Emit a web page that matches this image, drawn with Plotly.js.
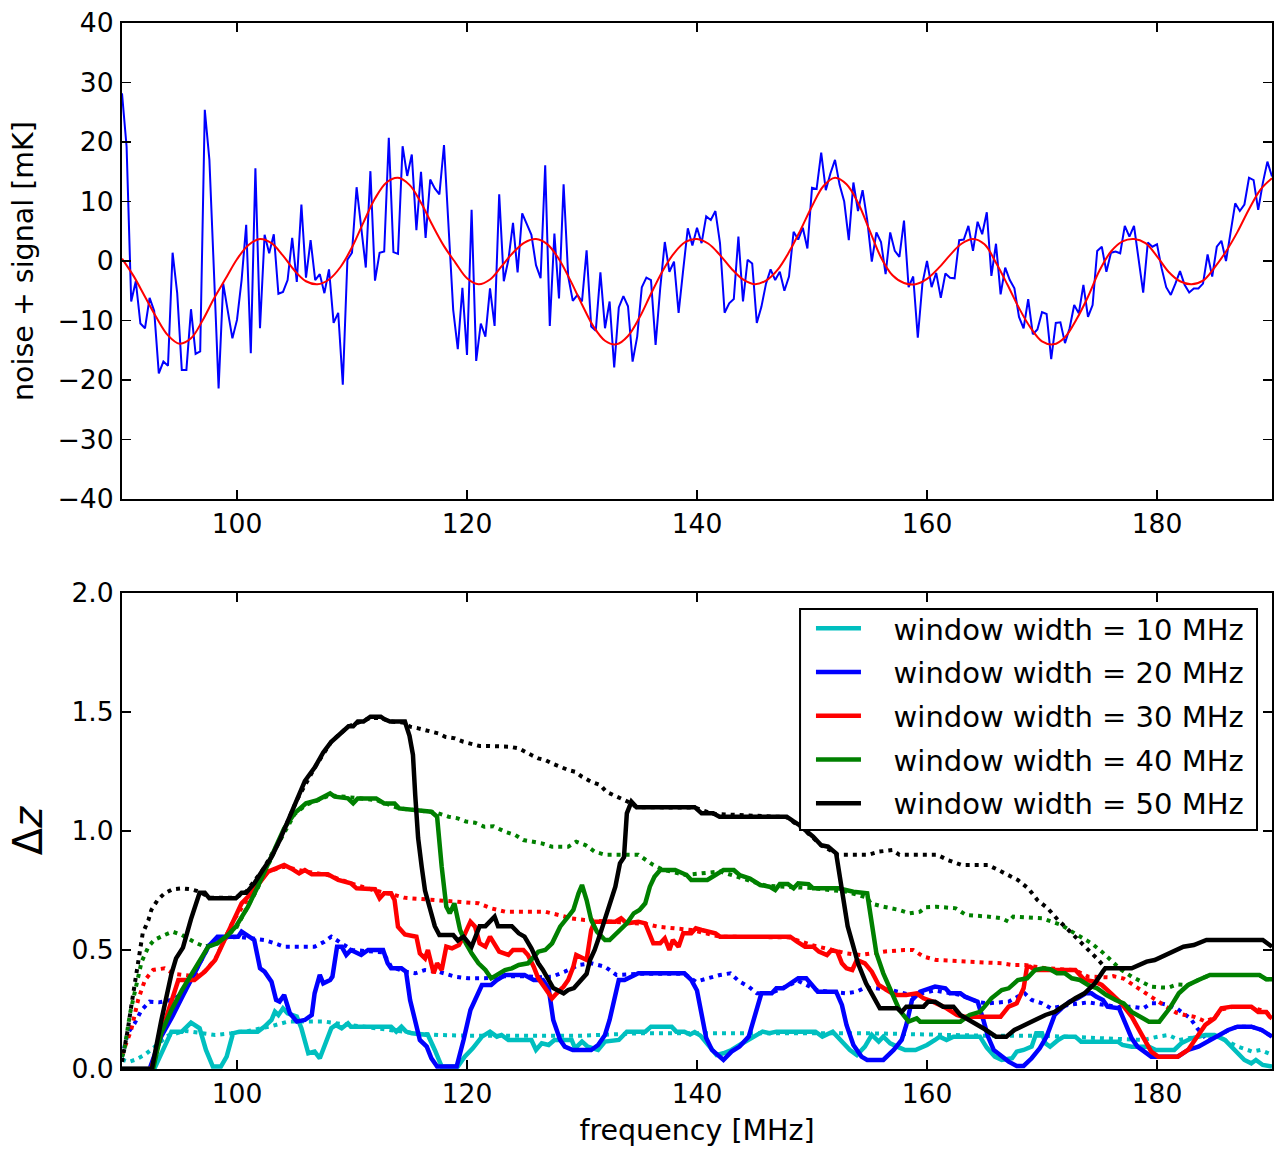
<!DOCTYPE html>
<html>
<head>
<meta charset="utf-8">
<script src="https://cdn.plot.ly/plotly-3.0.1.min.js"></script>
<style>
html,body{margin:0;padding:0;background:#fff;}
#chart{width:1276px;height:1151px;}
</style>
</head>
<body>
<div id="chart"></div>
<script>
// ---------------- DATA ----------------
// Top panel: noisy spectrum, sampled every 0.4 MHz from 90 to 190 MHz
const noiseFreqStart = 90;
const noiseFreqStep = 0.4;
const noiseValues = [
28.2, 19.2, -6.8, -3.4, -10.5, -11.3, -6.2, -8.4, -18.9, -16.9,
-17.6, 1.4, -5.4, -18.3, -18.3, -8.1, -15.6, -15.2, 25.4, 17.0,
-2.0, -21.4, -3.8, -8.8, -13.0, -9.9, -3.2, 6.1, -15.5, 15.6,
-11.3, 4.4, 1.3, 4.5, -5.5, -5.2, -3.2, 3.9, -3.5, 9.5,
-2.8, 3.5, -3.2, -2.2, -5.4, -1.4, -10.4, -8.7, -20.8, 0.2,
1.4, 12.4, 5.2, -1.1, 15.1, -3.3, 1.4, 1.6, 20.7, 1.5,
1.2, 19.3, 14.3, 17.9, 5.2,
15.0, 3.9, 13.7, 12.2, 11.2, 19.5, 4.6, -8.2, -14.8, -4.5,
-15.8, 8.6, -16.8, -10.5, -12.7, -4.6, -10.9, 11.2, -3.4, 0.2,
6.4, -1.9, 8.0, 6.3, 4.4, -0.7, -2.9, 16.1, -10.9, 4.6,
-6.3, 12.9, -2.6, -6.7, -5.7, -6.8, 1.8, -11.0, -11.7, -1.9,
-11.3, -6.8, -17.9, -7.8, -5.9, -7.6, -16.9, -12.7, -4.4, -2.8,
-3.2, -14.1, -4.6, 3.2, -1.8, -0.1, -8.7, -1.5, 5.5, 2.6,
5.6, 3.0, 7.5,
6.9, 8.4, 3.0, -8.7, -7.1, -6.4, 4.1, -6.8, 0.2, -0.4,
-10.4, -7.7, -3.8, -1.4, -3.2, -1.8, -5.0, -2.6, 4.9, 3.6,
5.6, 2.1, 12.3, 12.1, 18.2, 11.9, 14.7, 17.0, 12.8, 10.0,
3.5, 13.2, 8.4, 11.9, 6.9, -0.1, 4.8, 3.2, -2.2, 4.8,
1.7, 0.7, 6.8, -4.4, -2.6, -12.9, -3.8, 0.0, -4.4, -2.0,
-6.2, -2.1, -2.8, -2.9, 3.5, 3.6, 5.9, 1.7, 6.6, 4.5,
8.2,
-2.5, 2.9, -5.6, -1.1, -3.2, -4.6, -9.4, -11.3, -6.4, -12.3,
-11.5, -8.6, -8.9, -16.5, -10.4, -10.3, -13.8, -11.3, -7.4, -8.8,
-4.0, -9.4, -7.4, 1.7, 2.4, -1.8, 1.4, 1.6, 1.3, 5.9,
4.1, 5.9, -0.1, -5.3, 3.1, 2.4, 2.8, -1.2, -4.4, -5.7,
-3.8, -1.7, -4.0, -5.3, -4.6, -4.6, -3.8, 1.1, -2.6, 2.4,
3.4, 0.0, 4.8, 9.7, 8.4, 9.5, 14.0, 13.6, 8.6, 13.1,
16.7, 14.2
];

// Top panel: smooth signal (red), read every 1 MHz
const signalFreq = [90,91,92,93,94,95,96,97,98,99,100,101,102,103,104,105,106,107,108,109,110,111,112,113,114,115,116,117,118,119,120,121,122,123,124,125,126,127,128,129,130,131,132,133,134,135,136,137,138,139,140,141,142,143,144,145,146,147,148,149,150,151,152,153,154,155,156,157,158,159,160,161,162,163,164,165,166,167,168,169,170,171,172,173,174,175,176,177,178,179,180,181,182,183,184,185,186,187,188,189,190];
const signalValues = [0.4,-2.5,-6.0,-9.5,-12.5,-13.9,-13.0,-10.0,-6.3,-3.0,0.3,2.7,3.7,3.0,0.9,-1.6,-3.4,-3.9,-3.1,-1.0,2.3,6.5,10.5,13.2,14.0,12.8,9.8,6.0,2.5,-0.3,-2.9,-3.9,-3.1,-0.9,1.4,3.1,3.7,2.8,0.3,-3.3,-7.3,-11.0,-13.4,-14.0,-12.6,-9.5,-5.5,-1.7,1.3,3.2,3.7,2.9,1.0,-1.3,-3.1,-3.9,-3.3,-1.5,1.5,5.2,9.2,12.6,14.0,12.9,9.8,5.2,0.6,-2.4,-3.7,-3.9,-3.0,-1.2,1.0,2.9,3.7,2.8,-0.3,-4.0,-7.9,-11.2,-13.5,-14.0,-12.8,-9.8,-6.0,-1.6,1.6,3.3,3.7,3.0,0.8,-1.8,-3.4,-3.9,-3.3,-1.1,1.6,4.9,8.7,12.0,13.9];

// Bottom panel: Delta z vs frequency, [frequency MHz, Delta z] pairs
const windowWidths = [10, 20, 30, 40, 50];

const w10Solid = [[90,0],[92.8,0],[93.7,0.094],[94.3,0.157],[95.2,0.157],[96.0,0.195],[96.75,0.171],[97.3,0.08],[97.9,0.01],[98.6,0.01],[99.1,0.052],[99.65,0.15],[100.2,0.157],[101.8,0.157],[102.4,0.178],[103.0,0.206],[103.3,0.241],[103.6,0.227],[104.0,0.255],[104.4,0.234],[105.2,0.22],[105.6,0.171],[106.2,0.066],[106.75,0.073],[107.2,0.045],[107.6,0.094],[108.2,0.171],[108.6,0.185],[109.1,0.171],[109.65,0.192],[109.9,0.178],[113.4,0.178],[113.85,0.157],[114.3,0.178],[114.7,0.157],[115.2,0.15],[116.6,0.143],[117.2,0.08],[117.8,0.01],[119.2,0.01],[119.8,0.052],[120.5,0.087],[121.3,0.136],[122.0,0.157],[122.6,0.136],[123.0,0.143],[123.6,0.122],[125.6,0.122],[126.0,0.08],[126.5,0.108],[127.1,0.101],[127.6,0.122],[129.1,0.122],[129.4,0.087],[130.0,0.115],[130.5,0.094],[131.4,0.08],[132.0,0.115],[133.2,0.122],[133.9,0.157],[135.5,0.157],[136.0,0.178],[137.8,0.178],[138.2,0.157],[138.9,0.157],[139.4,0.145],[139.8,0.155],[140.3,0.14],[140.7,0.115],[141.1,0.094],[141.7,0.059],[142.3,0.066],[143.0,0.08],[143.7,0.101],[144.5,0.122],[145.0,0.136],[145.7,0.157],[146.3,0.15],[146.9,0.157],[150.3,0.157],[150.9,0.136],[151.8,0.157],[152.2,0.136],[153.3,0.08],[153.9,0.059],[154.6,0.094],[155.2,0.143],[155.8,0.115],[156.2,0.136],[156.8,0.108],[157.4,0.094],[158.1,0.08],[159.0,0.08],[160.0,0.101],[160.7,0.122],[161.1,0.136],[161.7,0.122],[162.3,0.136],[164.6,0.136],[165.2,0.09],[165.9,0.052],[166.5,0.038],[167.4,0.045],[167.8,0.073],[168.4,0.08],[169.1,0.094],[169.5,0.15],[170.0,0.15],[170.3,0.108],[170.7,0.094],[171.4,0.122],[171.9,0.136],[172.9,0.136],[173.4,0.115],[176.6,0.115],[177.0,0.101],[177.8,0.094],[179.3,0.094],[179.9,0.08],[181.5,0.08],[182.1,0.108],[183.0,0.129],[184.2,0.143],[185.0,0.143],[185.9,0.122],[186.8,0.08],[187.6,0.038],[188.2,0.024],[188.6,0.038],[189.2,0.017],[190,0.01]];
const w10Dotted = [[90,0.04],[90.6,0.03],[91.2,0.04],[92,0.06],[93,0.1],[94,0.14],[95.5,0.16],[97,0.15],[98.1,0.143],[99.5,0.15],[101,0.16],[103,0.18],[104.5,0.2],[106,0.2],[107.5,0.2],[109,0.19],[110.5,0.18],[112,0.17],[114,0.16],[115.5,0.15],[117.5,0.143],[120,0.14],[125,0.14],[130,0.14],[135,0.15],[140,0.15],[145,0.15],[150,0.15],[155,0.15],[160,0.145],[165,0.14],[170,0.14],[175,0.13],[178.8,0.122],[180.1,0.136],[181.0,0.143],[181.9,0.122],[183,0.13],[184.2,0.142],[185,0.14],[185.9,0.122],[187,0.095],[188.3,0.073],[189.0,0.08],[189.7,0.066],[190,0.06]];

const w20Solid = [[90,0],[92.4,0],[93.4,0.136],[94.3,0.213],[95.4,0.318],[96.6,0.43],[97.5,0.514],[98.3,0.556],[100.1,0.556],[100.4,0.577],[101.1,0.556],[101.5,0.542],[102.0,0.423],[102.4,0.409],[103.0,0.367],[103.4,0.29],[103.7,0.283],[104.1,0.311],[104.6,0.234],[105.2,0.199],[105.9,0.206],[106.5,0.227],[106.75,0.318],[107.2,0.395],[107.5,0.36],[108.1,0.374],[108.3,0.388],[108.7,0.514],[109.1,0.514],[109.5,0.479],[109.9,0.5],[110.8,0.479],[111.4,0.5],[112.7,0.5],[113.1,0.444],[113.4,0.423],[114.3,0.423],[114.7,0.409],[115.05,0.29],[115.5,0.192],[115.9,0.122],[116.5,0.094],[116.9,0.045],[117.4,0.01],[119.1,0.01],[119.7,0.122],[120.3,0.248],[120.7,0.29],[121.3,0.353],[122.1,0.353],[122.6,0.374],[123.3,0.395],[125.0,0.395],[125.8,0.374],[126.6,0.374],[127.1,0.339],[127.5,0.206],[128.1,0.122],[128.5,0.094],[129.2,0.08],[130.8,0.08],[131.4,0.101],[132.0,0.143],[132.4,0.206],[133.2,0.374],[133.7,0.374],[134.6,0.395],[134.9,0.402],[138.9,0.402],[139.5,0.374],[140.0,0.33],[140.4,0.23],[140.8,0.13],[141.3,0.08],[141.6,0.066],[142.3,0.038],[143.0,0.073],[143.7,0.094],[144.5,0.136],[145.2,0.248],[145.6,0.318],[146.5,0.318],[146.9,0.339],[147.5,0.339],[148.1,0.36],[148.8,0.381],[149.5,0.381],[150.5,0.325],[152.1,0.325],[152.6,0.269],[153.0,0.185],[153.6,0.101],[154.3,0.052],[154.8,0.038],[156.2,0.038],[157.1,0.08],[157.8,0.122],[158.2,0.185],[158.7,0.29],[159.4,0.325],[160.7,0.346],[161.6,0.339],[162.0,0.318],[162.9,0.318],[163.3,0.304],[164.4,0.283],[164.9,0.206],[165.3,0.136],[165.8,0.08],[166.3,0.059],[167.1,0.031],[167.8,0.013],[168.4,0.013],[169.1,0.045],[169.8,0.087],[170.4,0.136],[170.8,0.185],[171.1,0.227],[171.7,0.255],[172.4,0.283],[173.1,0.297],[173.8,0.318],[174.3,0.318],[174.7,0.304],[175.3,0.29],[175.7,0.262],[176.7,0.255],[177.3,0.185],[177.8,0.129],[178.3,0.094],[178.9,0.073],[179.5,0.052],[181.8,0.052],[182.7,0.08],[183.6,0.094],[184.4,0.115],[185.3,0.136],[186.2,0.164],[187.0,0.178],[188.2,0.178],[189.1,0.164],[189.7,0.143],[190,0.136]];
const w20Dotted = [[90,0.05],[90.5,0.15],[91.1,0.192],[91.7,0.248],[92.4,0.283],[93.2,0.28],[94.3,0.29],[95.4,0.32],[96.6,0.43],[97.5,0.51],[98.3,0.55],[100.1,0.555],[101.1,0.55],[102.4,0.542],[103.3,0.528],[104.1,0.514],[106.75,0.514],[107.6,0.535],[108.2,0.556],[110,0.5],[112.7,0.49],[113.4,0.43],[114.5,0.41],[115.5,0.402],[116.35,0.416],[117.5,0.409],[118.96,0.388],[120.1,0.381],[121.5,0.381],[123.3,0.39],[125.0,0.39],[126.6,0.385],[127.4,0.388],[128.5,0.409],[129.7,0.437],[130.8,0.444],[132.0,0.43],[133.0,0.395],[134.9,0.4],[138.9,0.4],[139.9,0.367],[141.0,0.381],[142.0,0.395],[142.9,0.402],[143.7,0.367],[144.5,0.346],[145.2,0.318],[146.5,0.32],[148.8,0.37],[150.5,0.33],[152.1,0.32],[153.0,0.318],[153.9,0.325],[154.5,0.339],[155.5,0.34],[157,0.33],[158.7,0.31],[160.7,0.33],[163,0.31],[164.5,0.28],[165.3,0.276],[166.2,0.28],[167.1,0.283],[167.9,0.304],[168.5,0.318],[169.1,0.29],[170.0,0.276],[170.8,0.255],[172.4,0.27],[174,0.28],[176.7,0.26],[177.8,0.262],[178.8,0.255],[179.5,0.276],[180.3,0.276],[181.0,0.269],[181.7,0.255],[182.3,0.234],[182.9,0.213],[183.5,0.171],[184.4,0.12],[185.3,0.138],[186.2,0.164],[187.0,0.178],[188.2,0.178],[189.1,0.164],[190,0.136]];

const w30Solid = [[90,0],[92.55,0],[93.4,0.15],[94.3,0.29],[94.9,0.374],[96.3,0.374],[97.2,0.409],[98.1,0.458],[98.9,0.542],[99.65,0.619],[100.4,0.696],[101.25,0.738],[102.1,0.794],[102.7,0.829],[103.4,0.843],[104.1,0.857],[104.7,0.843],[105.4,0.822],[105.9,0.836],[106.5,0.818],[107.9,0.818],[108.8,0.794],[109.9,0.78],[110.4,0.759],[112.0,0.755],[112.4,0.717],[112.8,0.738],[113.4,0.738],[113.7,0.71],[114.0,0.598],[114.6,0.565],[115.6,0.556],[115.9,0.486],[116.35,0.465],[116.6,0.5],[117.1,0.402],[117.4,0.444],[117.8,0.416],[118.2,0.514],[118.7,0.507],[119.3,0.521],[119.7,0.556],[120.3,0.619],[120.7,0.598],[121.1,0.528],[121.6,0.514],[122.0,0.556],[122.4,0.528],[122.8,0.493],[123.6,0.479],[124.0,0.5],[124.9,0.5],[125.3,0.479],[125.8,0.43],[126.2,0.381],[126.8,0.339],[127.4,0.297],[127.8,0.318],[128.4,0.346],[128.8,0.374],[129.25,0.43],[129.5,0.479],[130.0,0.465],[130.4,0.458],[130.8,0.584],[131.1,0.619],[132.9,0.619],[133.4,0.633],[133.9,0.612],[134.9,0.619],[135.5,0.612],[135.9,0.556],[136.2,0.528],[136.8,0.528],[137.2,0.549],[137.6,0.5],[137.9,0.542],[138.4,0.514],[138.8,0.57],[139.5,0.57],[139.9,0.591],[140.4,0.584],[141.6,0.57],[142.0,0.556],[148.1,0.556],[148.7,0.535],[149.4,0.514],[150.1,0.514],[150.6,0.493],[151.3,0.479],[151.7,0.5],[152.2,0.493],[152.6,0.444],[153.0,0.423],[153.5,0.416],[153.9,0.458],[154.6,0.444],[155.2,0.409],[155.8,0.353],[156.5,0.332],[157.2,0.311],[158.2,0.311],[159.1,0.318],[159.7,0.297],[160.5,0.283],[161.7,0.255],[162.6,0.227],[163.1,0.22],[166.4,0.22],[167.1,0.262],[167.8,0.276],[168.4,0.339],[168.7,0.43],[168.96,0.43],[169.4,0.416],[172.9,0.416],[173.7,0.374],[174.6,0.367],[175.2,0.353],[176.0,0.318],[176.9,0.276],[177.8,0.22],[178.7,0.143],[179.5,0.073],[180.1,0.052],[181.8,0.052],[182.7,0.08],[183.6,0.143],[184.2,0.185],[185.0,0.213],[185.6,0.255],[186.5,0.262],[188.2,0.262],[188.8,0.24],[189.5,0.24],[189.8,0.22],[190,0.213]];
const w30Dotted = [[90,0.06],[90.3,0.1],[90.8,0.164],[91.4,0.29],[92.0,0.374],[92.7,0.416],[93.7,0.423],[94.5,0.4],[96.3,0.39],[97.2,0.41],[98.1,0.46],[99.65,0.62],[101.25,0.74],[102.7,0.83],[104.1,0.85],[105.9,0.83],[107.9,0.815],[109.9,0.78],[112.0,0.75],[113.4,0.735],[114.5,0.72],[115.2,0.717],[117.5,0.71],[119.0,0.703],[121.0,0.696],[122.1,0.675],[123.3,0.661],[126.8,0.661],[127.9,0.647],[129.1,0.633],[130.2,0.626],[132,0.62],[134,0.615],[135.5,0.61],[136.6,0.598],[137.8,0.591],[139.5,0.584],[142,0.556],[148,0.553],[150,0.52],[152,0.5],[153.0,0.486],[154.2,0.479],[155.2,0.486],[156.2,0.493],[158.0,0.5],[158.8,0.5],[159.7,0.472],[160.8,0.458],[166.5,0.444],[167.4,0.437],[168.5,0.437],[170,0.425],[172.9,0.415],[174.0,0.388],[175.8,0.385],[176.2,0.39],[177.1,0.38],[177.8,0.357],[178.7,0.325],[179.6,0.3],[180.7,0.265],[181.7,0.236],[182.4,0.227],[183.2,0.22],[184.2,0.2],[185.0,0.215],[185.6,0.25],[186.5,0.26],[188.2,0.26],[189.5,0.24],[190,0.215]];

const w40Solid = [[90,0],[92.7,0],[93.4,0.15],[94.3,0.248],[95.2,0.33],[96.3,0.416],[97.5,0.514],[98.3,0.528],[99.2,0.563],[99.9,0.598],[100.96,0.682],[101.8,0.766],[102.7,0.864],[103.4,0.934],[104.1,1.011],[105.0,1.074],[106.0,1.116],[107.0,1.13],[107.6,1.144],[108.1,1.158],[108.5,1.144],[109.65,1.137],[110.1,1.116],[110.5,1.137],[112.1,1.137],[112.8,1.116],[113.7,1.116],[114.1,1.095],[116.9,1.081],[117.4,1.06],[117.8,0.85],[118.2,0.682],[118.5,0.654],[118.9,0.696],[119.4,0.584],[119.9,0.528],[120.4,0.486],[121.0,0.444],[121.6,0.416],[122.1,0.381],[123.3,0.416],[123.9,0.423],[124.5,0.437],[125.3,0.444],[126.2,0.493],[126.8,0.5],[127.4,0.528],[128.1,0.598],[128.8,0.64],[129.25,0.668],[129.7,0.738],[130.0,0.773],[130.4,0.71],[130.8,0.626],[131.3,0.577],[132.0,0.542],[132.4,0.542],[133.1,0.577],[133.9,0.612],[134.5,0.654],[135.0,0.668],[135.5,0.696],[135.9,0.766],[136.3,0.808],[136.8,0.836],[138.1,0.836],[138.7,0.822],[139.1,0.815],[139.5,0.794],[140.9,0.794],[141.6,0.815],[142.3,0.836],[143.2,0.836],[143.7,0.815],[144.6,0.8],[145.5,0.773],[146.3,0.766],[146.8,0.752],[147.2,0.777],[147.9,0.777],[148.4,0.759],[148.8,0.78],[149.7,0.777],[150.1,0.759],[152.3,0.759],[153.6,0.745],[154.8,0.738],[155.2,0.612],[155.6,0.486],[156.2,0.402],[156.8,0.332],[157.6,0.248],[158.4,0.199],[159.1,0.213],[159.4,0.199],[162.9,0.199],[163.7,0.227],[164.6,0.24],[165.0,0.262],[165.6,0.297],[166.5,0.332],[167.1,0.339],[167.9,0.374],[168.7,0.381],[169.4,0.416],[170.1,0.423],[170.7,0.419],[171.3,0.402],[172.0,0.402],[172.6,0.381],[173.3,0.374],[174.0,0.353],[174.8,0.339],[175.6,0.311],[176.4,0.29],[177.1,0.276],[177.8,0.24],[178.7,0.213],[179.3,0.199],[180.2,0.199],[180.7,0.227],[181.1,0.255],[181.9,0.318],[182.7,0.353],[183.6,0.374],[184.6,0.395],[188.9,0.395],[189.5,0.377],[190,0.377]];
const w40Dotted = [[90,0.05],[90.2,0.08],[90.7,0.234],[91.2,0.35],[91.7,0.45],[92.3,0.514],[92.8,0.542],[93.7,0.563],[94.4,0.577],[95.2,0.563],[95.9,0.542],[96.5,0.528],[97.2,0.514],[98.3,0.528],[99.9,0.59],[101.8,0.76],[103.4,0.93],[105.0,1.07],[106,1.11],[108.1,1.15],[112.1,1.13],[114.1,1.095],[116.9,1.08],[117.5,1.074],[118.4,1.06],[119.2,1.053],[119.9,1.04],[120.7,1.035],[121.5,1.018],[122.3,1.02],[123.3,0.997],[124.2,0.983],[124.9,0.962],[125.8,0.955],[126.5,0.948],[127.4,0.934],[128.8,0.934],[129.5,0.955],[130.3,0.941],[131.1,0.913],[132.0,0.9],[134.9,0.9],[135.5,0.878],[136.2,0.857],[137,0.838],[139,0.815],[142,0.83],[144,0.8],[146,0.77],[150,0.76],[153,0.745],[154.8,0.72],[155.1,0.696],[156.2,0.682],[157.6,0.668],[158.5,0.654],[159.4,0.661],[159.9,0.68],[160.8,0.682],[162.5,0.675],[163.4,0.647],[165.4,0.64],[166.5,0.633],[167.1,0.619],[167.5,0.64],[170.0,0.633],[170.8,0.619],[171.7,0.605],[172.6,0.577],[173.4,0.556],[174.3,0.528],[175.2,0.493],[176.0,0.458],[176.9,0.416],[177.8,0.388],[178.7,0.367],[179.5,0.346],[180.4,0.342],[181.0,0.342],[181.7,0.355],[182.7,0.353],[183.6,0.374],[184.6,0.395],[188.9,0.395],[189.5,0.377],[190,0.377]];

const w50Solid = [[90,0],[92.6,0],[93.4,0.2],[94.3,0.4],[94.7,0.465],[95.3,0.51],[96.0,0.63],[96.75,0.74],[97.2,0.74],[97.6,0.717],[99.9,0.717],[100.4,0.74],[100.8,0.74],[101.5,0.78],[102.3,0.84],[103.0,0.89],[103.7,0.96],[104.5,1.05],[105.2,1.13],[105.9,1.21],[106.8,1.27],[107.5,1.33],[108.2,1.375],[109.0,1.41],[109.7,1.44],[110.1,1.44],[110.5,1.46],[111.0,1.46],[111.6,1.48],[112.5,1.48],[112.8,1.47],[113.3,1.46],[114.6,1.46],[115.0,1.4],[115.3,1.32],[115.5,1.15],[115.75,0.97],[116.06,0.85],[116.35,0.75],[116.8,0.67],[117.2,0.6],[117.6,0.563],[118.8,0.563],[119.2,0.54],[119.7,0.556],[120.4,0.514],[121.1,0.6],[121.6,0.6],[122.4,0.64],[122.7,0.6],[123.9,0.6],[124.5,0.57],[125.0,0.556],[125.6,0.507],[126.2,0.444],[126.6,0.416],[127.1,0.374],[127.5,0.34],[128.4,0.318],[128.8,0.332],[129.3,0.34],[129.8,0.367],[130.4,0.4],[130.7,0.458],[131.1,0.5],[131.6,0.57],[132.0,0.626],[132.5,0.696],[132.9,0.766],[133.3,0.864],[133.65,0.89],[133.9,1.074],[134.3,1.123],[134.75,1.1],[139.8,1.1],[140.4,1.074],[141.4,1.074],[141.96,1.06],[147.8,1.06],[148.4,1.04],[148.9,1.025],[149.4,1.004],[150.1,0.976],[150.8,0.94],[151.4,0.934],[152.1,0.906],[152.4,0.82],[152.7,0.71],[153.1,0.6],[153.6,0.514],[154.0,0.444],[154.7,0.36],[155.5,0.29],[155.9,0.255],[157.4,0.255],[157.8,0.24],[158.2,0.262],[159.7,0.262],[160.1,0.283],[160.7,0.283],[161.4,0.262],[162.3,0.262],[162.9,0.227],[163.7,0.205],[164.3,0.19],[165.0,0.168],[166.0,0.136],[166.9,0.136],[167.6,0.164],[168.5,0.185],[169.4,0.206],[170.3,0.227],[171.1,0.24],[172.0,0.27],[172.9,0.297],[173.7,0.318],[174.6,0.36],[175.3,0.41],[175.5,0.423],[177.8,0.423],[178.4,0.437],[179.1,0.451],[179.8,0.458],[180.7,0.479],[181.4,0.493],[182.3,0.514],[183.2,0.521],[184.3,0.542],[189.2,0.542],[189.7,0.521],[190,0.514]];
const w50Dotted = [[90,0.03],[90.3,0.1],[90.5,0.164],[90.8,0.262],[91.1,0.36],[91.3,0.43],[91.5,0.5],[91.8,0.57],[92.3,0.626],[92.55,0.668],[93.1,0.71],[93.7,0.738],[94.4,0.755],[95.2,0.759],[96.0,0.755],[96.75,0.745],[97.6,0.72],[99.9,0.72],[100.8,0.745],[102.3,0.84],[103.7,0.96],[105.2,1.13],[106.8,1.27],[108.2,1.375],[109.7,1.44],[111.6,1.475],[112.5,1.475],[113.3,1.46],[114.6,1.455],[115.05,1.438],[115.77,1.431],[116.35,1.424],[117.5,1.41],[118.1,1.396],[118.96,1.389],[119.68,1.375],[120.4,1.368],[121.1,1.357],[121.86,1.357],[123.7,1.354],[124.5,1.347],[125.0,1.333],[125.6,1.319],[126.2,1.305],[126.8,1.298],[127.4,1.284],[128.1,1.27],[128.8,1.256],[129.4,1.249],[130.0,1.228],[130.8,1.207],[131.6,1.193],[132.1,1.165],[132.7,1.151],[133.4,1.137],[134.0,1.123],[134.75,1.1],[139.8,1.098],[141.4,1.072],[147.8,1.058],[149.4,1.002],[150.8,0.94],[152.1,0.905],[152.2,0.9],[154.9,0.9],[155.8,0.913],[157.0,0.92],[157.6,0.9],[160.9,0.9],[161.8,0.878],[163.0,0.857],[165.3,0.857],[166.2,0.836],[167.0,0.815],[167.9,0.794],[168.8,0.759],[169.6,0.71],[170.5,0.675],[171.4,0.626],[172.3,0.584],[173.2,0.542],[174.0,0.5],[174.9,0.458],[175.5,0.425]];

const seriesSolid = [w10Solid, w20Solid, w30Solid, w40Solid, w50Solid];
const seriesDotted = [w10Dotted, w20Dotted, w30Dotted, w40Dotted, w50Dotted];
const seriesColors = ['#00bfbf', '#0000ff', '#ff0000', '#008000', '#000000'];

const xTickVals = [100, 120, 140, 160, 180];
const yTopTickVals = [-40, -30, -20, -10, 0, 10, 20, 30, 40];
const yBotTickVals = [0, 0.5, 1.0, 1.5, 2.0];

// ---------------- BUILD ----------------
const noiseFreq = noiseValues.map((_, i) => +(noiseFreqStart + i * noiseFreqStep).toFixed(2));

const traces = [];
traces.push({x: noiseFreq, y: noiseValues, type: 'scatter', mode: 'lines',
  line: {color: '#0000ff', width: 2}, xaxis: 'x', yaxis: 'y', showlegend: false, hoverinfo: 'skip'});
traces.push({x: signalFreq, y: signalValues, type: 'scatter', mode: 'lines',
  line: {color: '#ff0000', width: 2, shape: 'spline', smoothing: 1}, xaxis: 'x', yaxis: 'y', showlegend: false, hoverinfo: 'skip'});

// dotted curves first (drawn underneath), then solid curves
windowWidths.forEach((w, k) => {
  const d = seriesDotted[k];
  traces.push({x: d.map(p => p[0]), y: d.map(p => p[1]), type: 'scatter', mode: 'lines',
    showlegend: false,
    line: {color: seriesColors[k], width: 4, dash: '4px,5px'}, xaxis: 'x2', yaxis: 'y2', hoverinfo: 'skip'});
});
const NB = '\u00a0\u00a0\u00a0';
windowWidths.forEach((w, k) => {
  const s = seriesSolid[k];
  traces.push({x: s.map(p => p[0]), y: s.map(p => p[1]), type: 'scatter', mode: 'lines',
    name: NB + 'window width = ' + w + ' MHz', legendgroup: 'g' + w,
    line: {color: seriesColors[k], width: 4.5}, xaxis: 'x2', yaxis: 'y2', hoverinfo: 'skip'});
});

const FONT = 'DejaVu Sans, sans-serif';
const tickFont = {family: FONT, size: 26.6, color: '#000'};
const baseAxis = {
  showline: true, linecolor: '#000', linewidth: 2, mirror: 'allticks',
  ticks: 'inside', ticklen: 9, tickwidth: 1.5, tickcolor: '#000',
  showgrid: false, zeroline: false, tickfont: tickFont, fixedrange: true
};

const layout = {
  width: 1276, height: 1151,
  paper_bgcolor: '#fff', plot_bgcolor: '#fff',
  margin: {l: 122, r: 4, t: 23, b: 82, pad: 0},
  font: {family: FONT, color: '#000'},
  showlegend: true,
  legend: {
    x: 0.5991, xanchor: 'left', y: 0.4455, yanchor: 'top',
    bgcolor: 'rgba(0,0,0,0)', borderwidth: 0,
    font: {family: FONT, size: 29, color: '#000'},
    tracegroupgap: 3, itemwidth: 45
  },
  shapes: [{
    type: 'rect', xref: 'paper', yref: 'paper', layer: 'above',
    x0: 0.5896, x1: 0.98696, y0: 0.2285, y1: 0.4398,
    fillcolor: '#ffffff', line: {color: '#000', width: 2}
  }],
  xaxis: Object.assign({}, baseAxis, {domain: [0, 1], anchor: 'y', range: [90, 190],
    tickmode: 'array', tickvals: xTickVals, ticklabelstandoff: 0}),
  yaxis: Object.assign({}, baseAxis, {domain: [0.5449, 1], anchor: 'x', range: [-40, 40],
    tickmode: 'array', tickvals: yTopTickVals, ticklabelstandoff: 1,
    title: {text: 'noise + signal [mK]', font: {family: FONT, size: 28.5}, standoff: 16}}),
  xaxis2: Object.assign({}, baseAxis, {domain: [0, 1], anchor: 'y2', range: [90, 190],
    tickmode: 'array', tickvals: xTickVals, ticklabelstandoff: 0,
    title: {text: 'frequency [MHz]', font: {family: FONT, size: 28.5}, standoff: 12}}),
  yaxis2: Object.assign({}, baseAxis, {domain: [0, 0.4551], anchor: 'x2', range: [0, 2],
    tickmode: 'array', tickvals: yBotTickVals, tickformat: '.1f', ticklabelstandoff: 1,
    title: {text: 'Δ<i>z</i>', font: {family: FONT, size: 40}, standoff: 16}})
};

Plotly.newPlot('chart', traces, layout, {displayModeBar: false, staticPlot: true});
</script>
</body>
</html>
